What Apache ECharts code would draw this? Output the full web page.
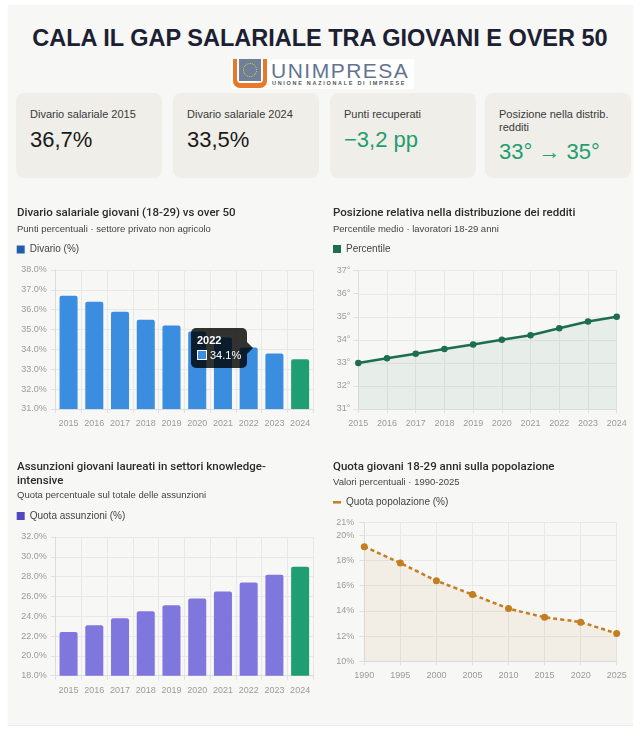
<!DOCTYPE html>
<html><head><meta charset="utf-8">
<script src="https://cdn.jsdelivr.net/npm/echarts@6/dist/echarts.min.js"></script>
<style>
html,body{margin:0;padding:0;background:#fff;width:640px;height:737px;overflow:hidden;font-family:"Liberation Sans",Arial,sans-serif;}
#panel{position:absolute;left:8px;top:5px;width:625px;height:720px;background:#f7f7f5;box-shadow:0 1px 1px rgba(0,0,0,0.07);}
#title{position:absolute;left:0;top:25px;width:640px;text-align:center;font-weight:bold;font-size:23.5px;line-height:26px;color:#1b2033;}
#logo{position:absolute;left:231px;top:59px;width:183px;height:30px;background:#fff;}
#logo .u{position:absolute;left:2px;top:0;width:34px;height:29px;background:#e8782a;border-radius:0 0 7px 7px;}
#logo .uw{position:absolute;left:4px;top:0;width:26px;height:24px;background:#fff;border-radius:0 0 4px 4px;}
#logo .sq{position:absolute;left:2px;top:0;width:22px;height:22px;background:#6f7f99;}
#logo .st{position:absolute;left:4px;top:4px;width:12px;height:12px;border:1.5px dotted #f2d21b;border-radius:50%;}
#logo .t1{position:absolute;left:40px;top:2px;font-size:21px;line-height:20px;letter-spacing:1.5px;color:#64748f;}
#logo .t2{position:absolute;left:41px;top:21px;font-size:5.5px;line-height:7px;font-weight:bold;letter-spacing:1.7px;color:#555;}
.card{position:absolute;top:93px;height:85px;width:146px;background:#efeee9;border-radius:8px;}
.card .lbl{position:absolute;left:14px;top:14.5px;font-size:11px;line-height:13px;color:#3a3a3a;}
.card .val{position:absolute;left:14px;top:35px;font-size:22px;line-height:24px;color:#1a1a1a;}
.card .val.g{color:#1f9e6e;}
#chart{position:absolute;left:0;top:195px;width:640px;height:542px;}
.ctip::after{content:'';position:absolute;right:-6px;top:50%;margin-top:-6px;border-top:6px solid transparent;border-bottom:6px solid transparent;border-left:6px solid rgba(0,0,0,0.8);}
</style></head>
<body>
<div id="panel"></div>
<div id="title">CALA IL GAP SALARIALE TRA GIOVANI E OVER 50</div>
<div id="logo"><div class="u"><div class="uw"><div class="sq"><div class="st"></div></div></div></div>
<div class="t1">UNIMPRESA</div><div class="t2">UNIONE NAZIONALE DI IMPRESE</div></div>
<div class="card" style="left:16px"><div class="lbl">Divario salariale 2015</div><div class="val">36,7%</div></div>
<div class="card" style="left:173px"><div class="lbl">Divario salariale 2024</div><div class="val">33,5%</div></div>
<div class="card" style="left:330px"><div class="lbl">Punti recuperati</div><div class="val g">−3,2 pp</div></div>
<div class="card" style="left:485px"><div class="lbl">Posizione nella distrib.<br>redditi</div><div class="val g" style="top:47px">33° → 35°</div></div>
<div id="chart"></div>
<script>
const years = ['2015','2016','2017','2018','2019','2020','2021','2022','2023','2024'];
const divario = [36.7, 36.4, 35.9, 35.5, 35.2, 34.9, 34.6, 34.1, 33.8, 33.5];
const percentile = [33.0, 33.2, 33.4, 33.6, 33.8, 34.0, 34.2, 34.5, 34.8, 35.0];
const assunzioni = [22.4, 23.1, 23.8, 24.5, 25.1, 25.8, 26.5, 27.4, 28.2, 29.0];
const popYears = ['1990','1995','2000','2005','2010','2015','2020','2025'];
const quotaPop = [19.1, 17.8, 16.4, 15.3, 14.2, 13.5, 13.1, 12.2];

const FONT = '"Liberation Sans", Arial, sans-serif';
const BLUE = '#3a8ddf', GREEN = '#1f9e74', PURPLE = '#7f77dd', DKGREEN = '#1b6e50', ORANGE = '#c47d1f';

const chart = echarts.init(document.getElementById('chart'));
const lab = {color:'#9b9b9b', fontSize:9, fontFamily:FONT};
const split = {show:true, interval:0, lineStyle:{color:'#e8e8e5', width:1}};
const axLine = {show:true, lineStyle:{color:'#dcdcdc', width:1}};
const tick = {show:true, length:4, interval:0, lineStyle:{color:'#e0e0e0'}};

function catAxis(i, data, gap){
  return {type:'category', gridIndex:i, data:data, boundaryGap:gap, axisLine:axLine,
    axisTick:tick, splitLine:split, axisLabel:Object.assign({}, lab, {margin:10, interval:0})};
}
function valAxis(i, min, max, step, fmt, margin){
  return {type:'value', gridIndex:i, min:min, max:max, interval:step, axisLine:axLine,
    axisTick:{show:true, length:5, lineStyle:{color:'#e0e0e0'}}, splitLine:split,
    axisLabel:Object.assign({}, lab, {margin:margin, formatter:fmt})};
}
function lastGreen(arr){
  return arr.map((v, i) => i === arr.length - 1 ? {value:v, itemStyle:{color:GREEN}} : v);
}
function title(left, top, text, sub, gap){
  return {left:left, top:top, padding:0, itemGap:gap, text:text, subtext:sub,
    textStyle:{fontFamily:'Roboto, ' + FONT, fontSize:11.5, fontWeight:500, color:'#2b2b2b', lineHeight:14},
    subtextStyle:{fontFamily:FONT, fontSize:9.5, color:'#444', lineHeight:13}};
}
function legend(left, top, name, color, w, h){
  return {left:left, top:top, padding:0, itemWidth:w, itemHeight:h, icon:'rect', selectedMode:false,
    data:[{name:name, itemStyle:{color:color, borderWidth:0}}],
    textStyle:{fontFamily:FONT, fontSize:10, color:'#444', lineHeight:12}};
}

const option = {
  animation:false,
  title:[
    title(17, 11, 'Divario salariale giovani (18-29) vs over 50', 'Punti percentuali · settore privato non agricolo', 2.5),
    title(333, 11.3, 'Posizione relativa nella distribuzione dei redditi', 'Percentile medio · lavoratori 18-29 anni', 2.5),
    title(17, 264.7, 'Assunzioni giovani laureati in settori knowledge-\nintensive', 'Quota percentuale sul totale delle assunzioni', 1.5),
    title(333, 264.7, 'Quota giovani 18-29 anni sulla popolazione', 'Valori percentuali · 1990-2025', 2)
  ],
  legend:[
    legend(16.7, 48.5, 'Divario (%)', '#1f5fa8', 8, 8),
    legend(333, 48, 'Percentile', DKGREEN, 8, 8),
    legend(16.7, 315, 'Quota assunzioni (%)', '#5448c0', 8, 8),
    legend(333, 301.3, 'Quota popolazione (%)', ORANGE, 8, 2.5)
  ],
  grid:[
    {left:55.7, top:75, width:257.3, height:139},
    {left:358.3, top:75.7, width:258.4, height:138.3},
    {left:55.7, top:342, width:257.3, height:138.7},
    {left:364.3, top:327.7, width:252.4, height:138.6}
  ],
  xAxis:[
    catAxis(0, years, true),
    catAxis(1, years, false),
    catAxis(2, years, true),
    catAxis(3, popYears, false)
  ],
  yAxis:[
    valAxis(0, 31, 38, 1, v => v.toFixed(1) + '%', 9),
    valAxis(1, 31, 37, 1, v => v + '°', 8),
    valAxis(2, 18, 32, 2, v => v.toFixed(1) + '%', 9),
    valAxis(3, 10, 21, 2, v => v + '%', 10)
  ],
  tooltip:{
    trigger:'item', triggerOn:'none', alwaysShowContent:true, transitionDuration:0,
    position:[190.7, 132.7], backgroundColor:'rgba(0,0,0,0.8)', borderWidth:0, padding:[5,6],
    className:'ctip', extraCssText:'box-shadow:none;border-radius:5px;',
    textStyle:{color:'#fff', fontSize:11, fontFamily:FONT},
    formatter: p => '<div style="font-weight:bold;line-height:15px">' + p.name + '</div>' +
      '<div style="line-height:15px"><span style="display:inline-block;width:8px;height:8px;background:' + BLUE +
      ';border:1px solid #fff;margin-right:3px;vertical-align:-1px"></span>' + p.value.toFixed(1) + '%</div>'
  },
  series:[
    {name:'Divario (%)', type:'bar', xAxisIndex:0, yAxisIndex:0, barWidth:'70%',
      itemStyle:{color:BLUE, borderRadius:[2,2,0,0]}, data:lastGreen(divario)},
    {name:'Percentile', type:'line', xAxisIndex:1, yAxisIndex:1, data:percentile,
      symbol:'circle', symbolSize:6.5, showSymbol:true, itemStyle:{color:DKGREEN},
      lineStyle:{color:DKGREEN, width:2.5}, areaStyle:{color:'rgba(27,110,80,0.10)'}, tooltip:{show:false}},
    {name:'Quota assunzioni (%)', type:'bar', xAxisIndex:2, yAxisIndex:2, barWidth:'70%',
      itemStyle:{color:PURPLE, borderRadius:[2,2,0,0]}, data:lastGreen(assunzioni), tooltip:{show:false}},
    {name:'Quota popolazione (%)', type:'line', xAxisIndex:3, yAxisIndex:3, data:quotaPop, smooth:0.15,
      symbol:'circle', symbolSize:7, showSymbol:true, itemStyle:{color:ORANGE},
      lineStyle:{color:ORANGE, width:2.5, type:[4,3]}, areaStyle:{color:'rgba(196,125,31,0.10)'}, tooltip:{show:false}}
  ]
};
chart.setOption(option);
chart.dispatchAction({type:'showTip', seriesIndex:0, dataIndex:7});
setTimeout(() => chart.dispatchAction({type:'showTip', seriesIndex:0, dataIndex:7}), 50);
</script>
</body></html>
